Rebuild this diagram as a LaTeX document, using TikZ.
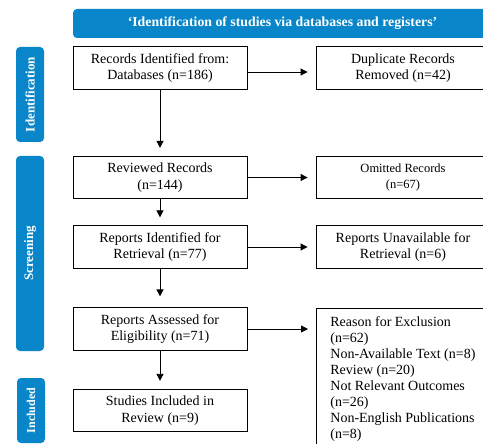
\documentclass[tikz,border=0pt]{standalone}
\usepackage{fontspec}
\setmainfont{Liberation Serif}
\usetikzlibrary{arrows.meta}
\definecolor{prismablue}{RGB}{8,134,201}

\begin{document}
\begin{tikzpicture}[x=1pt, y=-1pt,
    >={Triangle[length=7pt,width=7pt]},
    stage/.style={draw, line width=0.8pt, minimum width=174pt, minimum height=42.5pt,
      align=center, inner sep=2pt, font=\fontsize{14}{16.5}\selectfont},
    phase/.style={fill=prismablue, rounded corners=4pt, text=white, rotate=90,
      minimum height=28pt, inner sep=0pt, font=\bfseries\fontsize{13}{15}\selectfont},
    flow/.style={->, line width=0.8pt, shorten >=8pt}]
  \useasboundingbox (0,0) rectangle (483,444);
  \clip (0,0) rectangle (483,444);
  \node[fill=prismablue, rounded corners=4pt, text=white, minimum width=419pt, minimum height=29pt,
    font=\bfseries\fontsize{13.8}{16}\selectfont] (Title) at (282.5,23.5)
    {‘Identification of studies via databases and registers’};
  \node[phase, minimum width=95pt] (Identification) at (30,94.5) {Identification};
  \node[phase, minimum width=195pt] (Screening) at (30,253.5) {Screening};
  \node[phase, minimum width=65pt, font=\bfseries\fontsize{12}{14}\selectfont] (Included) at (31,410.5) {Included};
  \node[stage] (Records) at (160,68) {Records Identified from:\\Databases (n=186)};
  \node[stage] (Duplicates) at (403,68) {Duplicate Records\\Removed (n=42)};
  \node[stage] (Reviewed) at (160,177.5) {Reviewed Records\\(n=144)};
  \node[stage, font=\fontsize{12.5}{15.5}\selectfont] (Omitted) at (403,177.5) {Omitted Records\\(n=67)};
  \node[stage] (Retrieval) at (160,247) {Reports Identified for\\Retrieval (n=77)};
  \node[stage] (Unavailable) at (403,247) {Reports Unavailable for\\Retrieval (n=6)};
  \node[stage] (Assessed) at (160,329) {Reports Assessed for\\Eligibility (n=71)};
  \node[stage] (Studies) at (160,410.5) {Studies Included in\\Review (n=9)};
  \node[stage, anchor=north west, align=left, minimum width=0pt, inner xsep=14pt, inner ysep=8pt,
    font=\fontsize{14}{16}\selectfont] (Excluded) at (316,308)
    {Reason for Exclusion\\(n=62)\\Non-Available Text (n=8)\\Review (n=20)\\Not Relevant Outcomes\\(n=26)\\Non-English Publications\\(n=8)};
  \draw[flow] (Records) -- (Reviewed);
  \draw[flow] (Reviewed) -- (Retrieval);
  \draw[flow, shorten >=11pt] (Retrieval) -- (Assessed);
  \draw[flow] (Assessed) -- (Studies);
  \draw[flow] ([yshift=-4pt]Records.east) -- ([yshift=-4pt]Duplicates.west);
  \draw[flow] (Reviewed) -- (Omitted);
  \draw[flow] (Retrieval) -- (Unavailable);
  \draw[flow] (Assessed.east) -- (Assessed.east -| Excluded.west);
\end{tikzpicture}
\end{document}
